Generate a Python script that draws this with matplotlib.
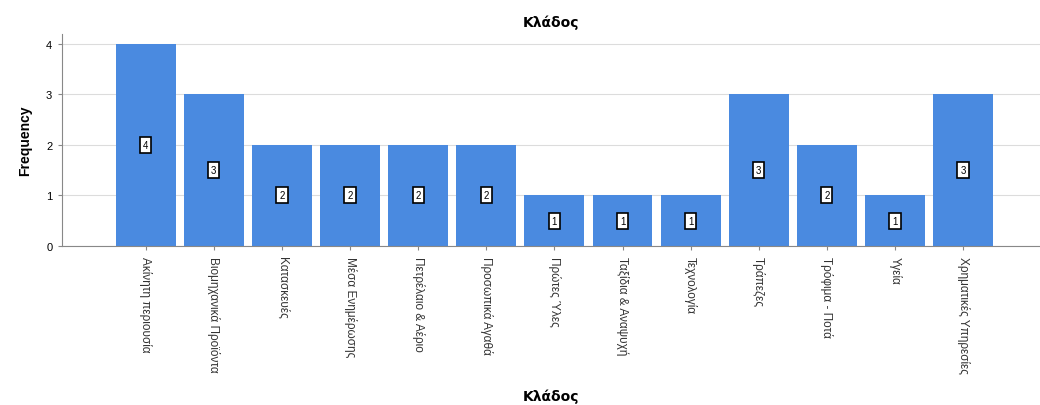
import matplotlib
matplotlib.use("Agg")
import matplotlib.pyplot as plt

categories = [
    "Ακίνητη περιουσία",
    "Βιομηχανικά Προϊόντα",
    "Κατασκευές",
    "Μέσα Ενημέρωσης",
    "Πετρέλαιο & Αέριο",
    "Προσωπικά Αγαθά",
    "Πρώτες Ύλες",
    "Ταξίδια & Αναψυχή",
    "Τεχνολογία",
    "Τράπεζες",
    "Τρόφιμα - Ποτά",
    "Υγεία",
    "Χρηματικές Υπηρεσίες",
]
frequency = [4, 3, 2, 2, 2, 2, 1, 1, 1, 3, 2, 1, 3]

narrow = ["Liberation Sans Narrow", "Liberation Sans", "DejaVu Sans"]

fig = plt.figure(figsize=(10.4, 4.06), dpi=100)
ax = fig.add_axes([0.0596, 0.392, 0.9404, 0.522])

x = list(range(len(categories)))
ax.bar(x, frequency, width=0.88, color="#4a8ae0", zorder=2)

# value boxes in the middle of each bar
for xi, v in zip(x, frequency):
    ax.text(xi, v / 2, str(v), ha="center", va="center", fontsize=7,
            family=narrow, zorder=3,
            bbox=dict(boxstyle="square,pad=0.3", fc="white", ec="black", lw=1.2))

ax.set_xlim(-1.23, len(categories) - 1 + 1.13)
ax.set_ylim(0, 4.2)
ax.set_yticks([0, 1, 2, 3, 4])
ax.yaxis.grid(True, color="#dcdcdc", lw=0.8, zorder=0)
ax.set_axisbelow(True)

ax.set_xticks(x)
ax.set_xticklabels(categories, rotation=270, ha="center", va="top",
                   fontsize=8.5, family=narrow, color="#333333")
for lbl in ax.get_yticklabels():
    lbl.set_family(narrow)
    lbl.set_fontsize(8)
ax.tick_params(axis="both", length=3, color="#888888", pad=4)

for s in ["top", "right"]:
    ax.spines[s].set_visible(False)
ax.spines["left"].set_color("#888888")
ax.spines["bottom"].set_color("#888888")

ax.set_ylabel("Frequency", fontsize=10, fontweight="bold", family=narrow, labelpad=10)
fig.text(0.53, 0.945, "Κλάδος", ha="center", va="center", fontsize=10, fontweight="bold")
fig.text(0.53, 0.022, "Κλάδος", ha="center", va="center", fontsize=10, fontweight="bold")

fig.savefig("out.png", dpi=100)
